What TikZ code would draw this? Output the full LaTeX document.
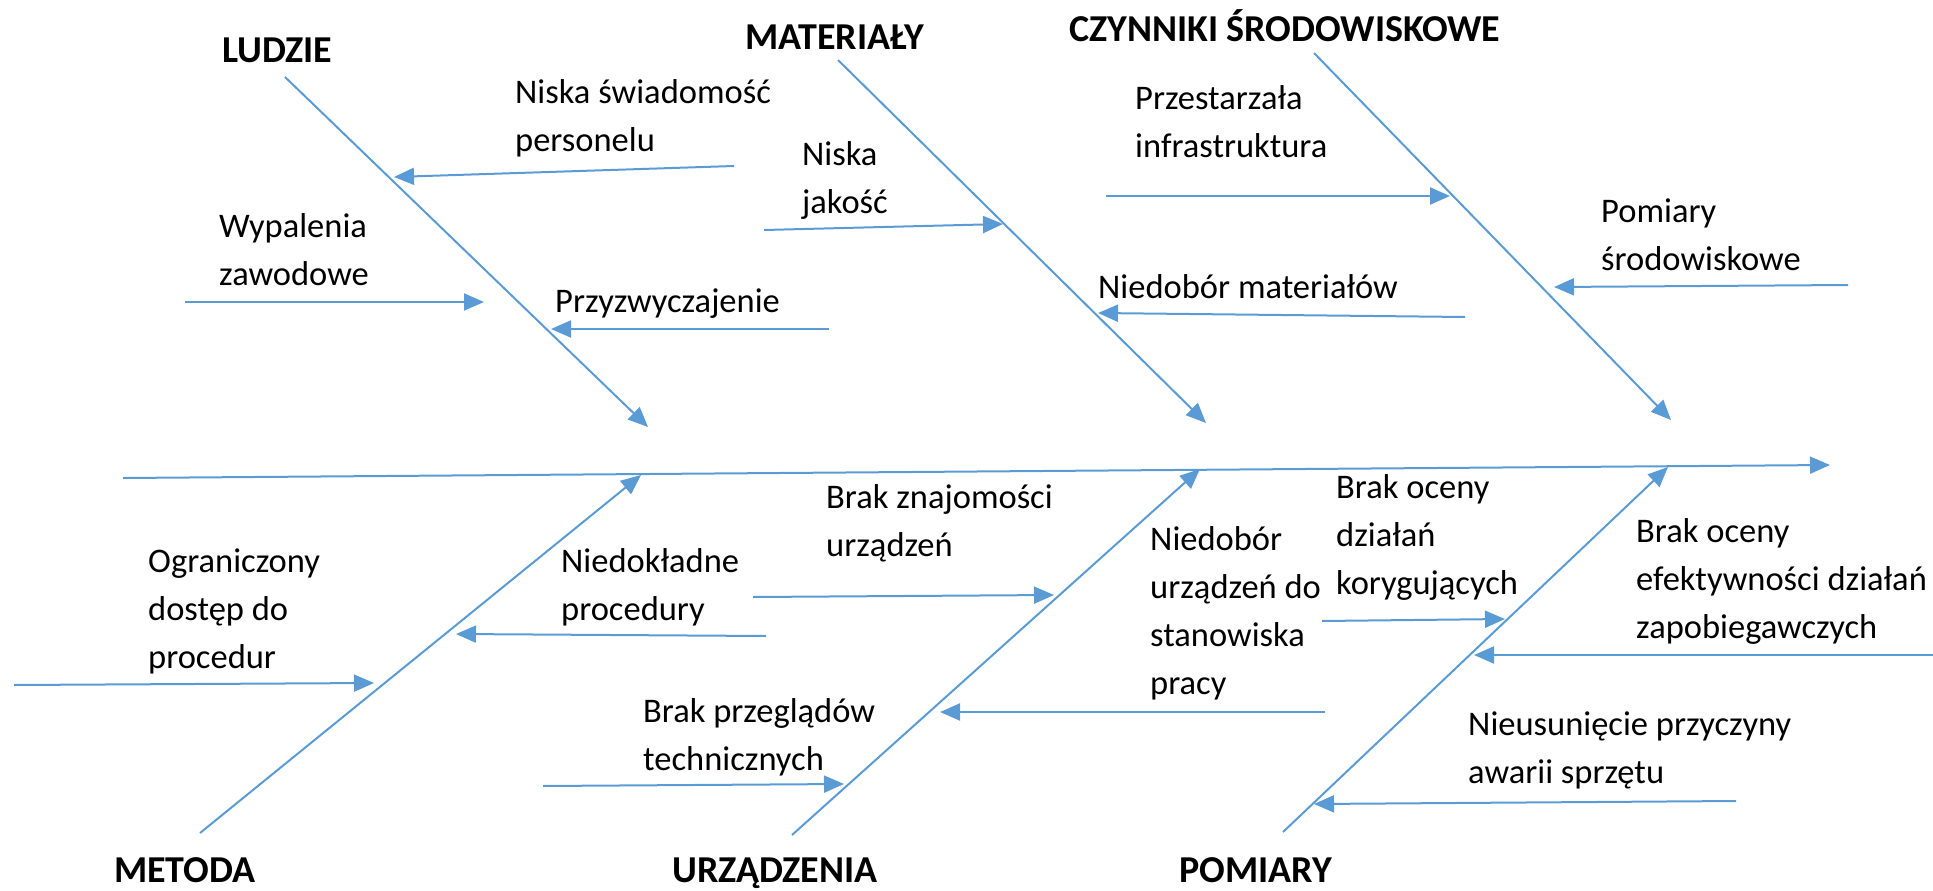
\documentclass[tikz,border=0pt]{standalone}
\usepackage{fontspec}
\setmainfont{Carlito}
\usepackage{xcolor}
\usepackage{tikz}
\usetikzlibrary{arrows.meta}
\definecolor{fishblue}{HTML}{5B9BD5}

\begin{document}
\begin{tikzpicture}[x=1pt,y=-1pt]
\tikzstyle{every node}=[font=\fontsize{34.5}{48}\selectfont, inner sep=0pt, align=left]
\tikzstyle{cause}=[anchor=base west]
\tikzstyle{category}=[anchor=base west, font=\fontsize{38}{44}\selectfont\bfseries]
\tikzstyle{bone}=[draw=fishblue, line width=2pt, -{Triangle[length=20pt,width=17pt]}, fishblue]
\useasboundingbox (0,0) rectangle (1933,891);

\coordinate (spine-a) at (123,478);
\coordinate (spine-b) at (1830,465);
\coordinate (ludzie-a) at (285,77);
\coordinate (ludzie-b) at (648,427);
\coordinate (materialy-a) at (838,60);
\coordinate (materialy-b) at (1206,423);
\coordinate (czynniki-a) at (1314,53);
\coordinate (czynniki-b) at (1671,420);
\coordinate (metoda-a) at (200,833);
\coordinate (metoda-b) at (641,475);
\coordinate (urzadzenia-a) at (792,835);
\coordinate (urzadzenia-b) at (1200,469);
\coordinate (pomiary-a) at (1283,832);
\coordinate (pomiary-b) at (1668,467);

\coordinate (swiadomosc-a) at (734,166);
\coordinate (swiadomosc-b) at (394,177);
\coordinate (jakosc-a) at (764,230);
\coordinate (jakosc-b) at (1003,224);
\coordinate (wypalenia-a) at (185,302);
\coordinate (wypalenia-b) at (484,302);
\coordinate (przyzw-a) at (829,329);
\coordinate (przyzw-b) at (551,329);
\coordinate (infra-a) at (1106,196);
\coordinate (infra-b) at (1450,196);
\coordinate (srodow-a) at (1848,285);
\coordinate (srodow-b) at (1554,287);
\coordinate (niedobor-a) at (1465,317);
\coordinate (niedobor-b) at (1098,313);
\coordinate (dostep-a) at (14,685);
\coordinate (dostep-b) at (374,683);
\coordinate (niedokl-a) at (766,636);
\coordinate (niedokl-b) at (456,634);
\coordinate (znajom-a) at (753,597);
\coordinate (znajom-b) at (1054,595);
\coordinate (przegl-a) at (543,786);
\coordinate (przegl-b) at (844,784);
\coordinate (stanow-a) at (1325,712);
\coordinate (stanow-b) at (940,712);
\coordinate (koryg-a) at (1322,621);
\coordinate (koryg-b) at (1505,619);
\coordinate (zapob-a) at (1933,655);
\coordinate (zapob-b) at (1474,655);
\coordinate (awarii-a) at (1736,801);
\coordinate (awarii-b) at (1314,804);

\draw [bone] (spine-a) -- (spine-b);
\draw [bone] (ludzie-a) -- (ludzie-b);
\draw [bone] (materialy-a) -- (materialy-b);
\draw [bone] (czynniki-a) -- (czynniki-b);
\draw [bone] (metoda-a) -- (metoda-b);
\draw [bone] (urzadzenia-a) -- (urzadzenia-b);
\draw [bone] (pomiary-a) -- (pomiary-b);

\draw [bone] (swiadomosc-a) -- (swiadomosc-b);
\draw [bone] (jakosc-a) -- (jakosc-b);
\draw [bone] (wypalenia-a) -- (wypalenia-b);
\draw [bone] (przyzw-a) -- (przyzw-b);
\draw [bone] (infra-a) -- (infra-b);
\draw [bone] (srodow-a) -- (srodow-b);
\draw [bone] (niedobor-a) -- (niedobor-b);
\draw [bone] (dostep-a) -- (dostep-b);
\draw [bone] (niedokl-a) -- (niedokl-b);
\draw [bone] (znajom-a) -- (znajom-b);
\draw [bone] (przegl-a) -- (przegl-b);
\draw [bone] (stanow-a) -- (stanow-b);
\draw [bone] (koryg-a) -- (koryg-b);
\draw [bone] (zapob-a) -- (zapob-b);
\draw [bone] (awarii-a) -- (awarii-b);

\node [category] (ludzie) at (222,63) {LUDZIE};
\node [category] (materialy) at (745,49) {MATERIAŁY};
\node [category] (czynniki) at (1069,42) {CZYNNIKI ŚRODOWISKOWE};
\node [category] (metoda) at (114,882) {METODA};
\node [category] (urzadzenia) at (672,882) {URZĄDZENIA};
\node [category] (pomiary) at (1179,882) {POMIARY};

\node [cause] (swiadomosc) at (515,151) {Niska świadomość\\personelu};
\node [cause] (jakosc) at (802,213) {Niska\\jakość};
\node [cause] (wypalenia) at (219,285) {Wypalenia\\zawodowe};
\node [cause] (przyzw) at (555,312) {Przyzwyczajenie};
\node [cause] (infra) at (1135,157) {Przestarzała\\infrastruktura};
\node [cause] (srodow) at (1601,270) {Pomiary\\środowiskowe};
\node [cause] (niedobor) at (1098,298) {Niedobór materiałów};
\node [cause] (dostep) at (148,668) {Ograniczony\\dostęp do\\procedur};
\node [cause] (niedokl) at (561,620) {Niedokładne\\procedury};
\node [cause] (znajom) at (826,556) {Brak znajomości\\urządzeń};
\node [cause] (przegl) at (643,770) {Brak przeglądów\\technicznych};
\node [cause] (stanow) at (1150,694) {Niedobór\\urządzeń do\\stanowiska\\pracy};
\node [cause] (koryg) at (1336,594) {Brak oceny\\działań\\korygujących};
\node [cause] (zapob) at (1636,638) {Brak oceny\\efektywności działań\\zapobiegawczych};
\node [cause] (awarii) at (1468,783) {Nieusunięcie przyczyny\\awarii sprzętu};
\end{tikzpicture}
\end{document}
